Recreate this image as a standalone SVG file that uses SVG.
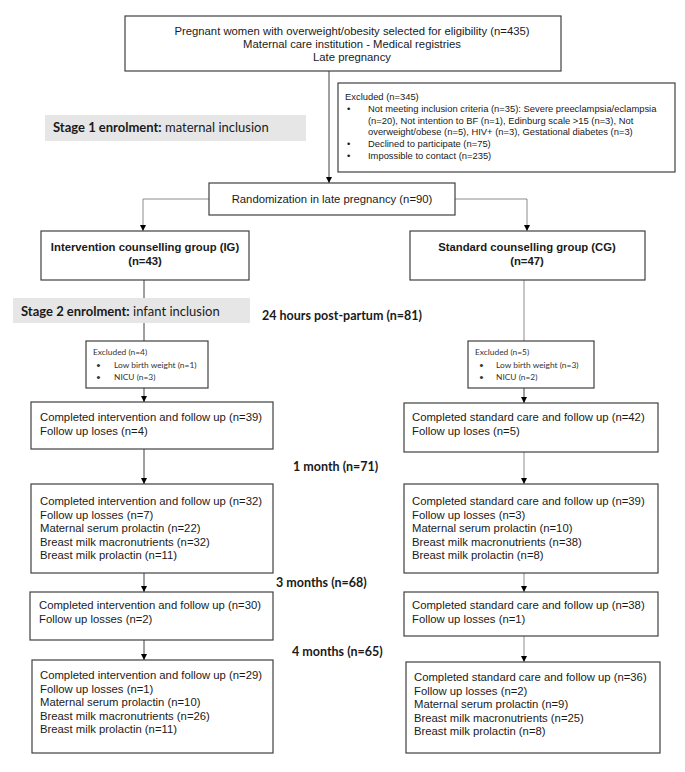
<svg xmlns="http://www.w3.org/2000/svg" width="685" height="772" viewBox="0 0 685 772">
<style>
.box{fill:#fff;stroke:#404040;stroke-width:1.2}
.lbl{fill:#e6e6e6}
.t{font-family:"Liberation Sans",Arial,sans-serif;font-size:11.3px;fill:#1a1a1a}
.tb{font-family:"Liberation Sans",Arial,sans-serif;font-size:11.3px;font-weight:bold;fill:#1a1a1a}
.ts{font-family:"Liberation Sans",Arial,sans-serif;font-size:9.4px;fill:#1a1a1a}
.c{font-family:Lato,"Open Sans",sans-serif;fill:#1a1a1a}
.st{font-size:13px}
.tm{font-size:12.5px;font-weight:bold}
.cs{font-family:Lato,"Open Sans",sans-serif;font-size:8.4px;fill:#333}
.ln{fill:none;stroke:#404040;stroke-width:1}
.lg{fill:none;stroke:#8c8c8c;stroke-width:1}
</style>
<defs>
<marker id="ah" viewBox="0 0 10 10" refX="10" refY="5" markerWidth="6" markerHeight="6" orient="auto" markerUnits="userSpaceOnUse">
<path d="M0,0 L10,5 L0,10 z" fill="#000"/>
</marker>
</defs>
<g id="connectors">
<path class="ln" d="M329,71 V183" marker-end="url(#ah)"/>
<path class="lg" d="M209,199 H143 V231" marker-end="url(#ah)"/>
<path class="lg" d="M455,199 H527 V231" marker-end="url(#ah)"/>
<path class="ln" d="M144,280 V341"/>
<path class="lg" d="M524,280 V341"/>
<path class="ln" d="M144,388 V402" marker-end="url(#ah)"/>
<path class="ln" d="M524,388 V403" marker-end="url(#ah)"/>
<path class="ln" d="M144,449 V484" marker-end="url(#ah)"/>
<path class="lg" d="M524,452 V484" marker-end="url(#ah)"/>
<path class="ln" d="M144,573 V592" marker-end="url(#ah)"/>
<path class="lg" d="M524,573 V592" marker-end="url(#ah)"/>
<path class="ln" d="M144,640 V660" marker-end="url(#ah)"/>
<path class="lg" d="M524,636 V662" marker-end="url(#ah)"/>
</g>
<g id="eligibility">
<rect class="box" x="125" y="16" width="436" height="55"/>
<text class="t" x="352" text-anchor="middle"><tspan x="352" y="35">Pregnant women with overweight/obesity selected for eligibility (n=435)</tspan><tspan x="352" y="48">Maternal care institution - Medical registries</tspan><tspan x="352" y="61">Late pregnancy</tspan></text>
</g>
<g id="excluded1">
<rect class="box" x="338" y="83" width="337" height="89"/>
<text class="ts"><tspan x="345" y="100">Excluded (n=345)</tspan><tspan x="347" y="111.8">•</tspan><tspan x="368" y="111.8">Not meeting inclusion criteria (n=35): Severe preeclampsia/eclampsia</tspan><tspan x="368" y="123.6">(n=20), Not intention to BF (n=1), Edinburg scale &gt;15 (n=3), Not</tspan><tspan x="368" y="135.4">overweight/obese (n=5), HIV+ (n=3), Gestational diabetes (n=3)</tspan><tspan x="347" y="147.2">•</tspan><tspan x="368" y="147.2">Declined to participate (n=75)</tspan><tspan x="347" y="159">•</tspan><tspan x="368" y="159">Impossible to contact (n=235)</tspan></text>
</g>
<g id="stage1">
<rect class="lbl" x="45" y="115" width="261" height="26"/>
<text class="c st" x="53" y="132"><tspan font-weight="bold">Stage 1 enrolment:</tspan> maternal inclusion</text>
</g>
<g id="randomization">
<rect class="box" x="209" y="183" width="246" height="32"/>
<text class="t" x="332" y="203" text-anchor="middle">Randomization in late pregnancy (n=90)</text>
</g>
<g id="ig">
<rect class="box" x="41" y="231" width="208" height="49"/>
<text class="tb" text-anchor="middle"><tspan x="145" y="251">Intervention counselling group (IG)</tspan><tspan x="145" y="265">(n=43)</tspan></text>
</g>
<g id="cg">
<rect class="box" x="410" y="231" width="235" height="49"/>
<text class="tb" text-anchor="middle"><tspan x="527" y="251">Standard counselling group (CG)</tspan><tspan x="527" y="265">(n=47)</tspan></text>
</g>
<g id="stage2">
<rect class="lbl" x="13" y="298" width="237" height="25"/>
<text class="c st" x="21" y="316"><tspan font-weight="bold">Stage 2 enrolment:</tspan> infant inclusion</text>
</g>
<g id="t24h">
<text class="c tm" x="262" y="319.5">24 hours post-partum (n=81)</text>
</g>
<g id="excluded-ig">
<rect class="box" x="86" y="341" width="122" height="47"/>
<text class="cs"><tspan x="93" y="355">Excluded (n=4)</tspan><tspan x="96" y="367.5">•</tspan><tspan x="114" y="367.5">Low birth weight (n=1)</tspan><tspan x="96" y="380">•</tspan><tspan x="114" y="380">NICU (n=3)</tspan></text>
</g>
<g id="excluded-cg">
<rect class="box" x="468" y="341" width="126" height="47"/>
<text class="cs"><tspan x="475" y="355">Excluded (n=5)</tspan><tspan x="479" y="367.5">•</tspan><tspan x="496" y="367.5">Low birth weight (n=3)</tspan><tspan x="479" y="380">•</tspan><tspan x="496" y="380">NICU (n=2)</tspan></text>
</g>
<g id="ig-24h">
<rect class="box" x="31" y="402" width="242" height="47"/>
<text class="t"><tspan x="40" y="421">Completed intervention and follow up (n=39)</tspan><tspan x="40" y="435">Follow up loses (n=4)</tspan></text>
</g>
<g id="cg-24h">
<rect class="box" x="404" y="403" width="254" height="49"/>
<text class="t"><tspan x="412" y="421">Completed standard care and follow up (n=42)</tspan><tspan x="412" y="435">Follow up loses (n=5)</tspan></text>
</g>
<g id="t1m">
<text class="c tm" x="293" y="470.5">1 month (n=71)</text>
</g>
<g id="ig-1m">
<rect class="box" x="31" y="484" width="242" height="89"/>
<text class="t"><tspan x="40" y="505">Completed intervention and follow up (n=32)</tspan><tspan x="40" y="518.5">Follow up losses (n=7)</tspan><tspan x="40" y="532">Maternal serum prolactin (n=22)</tspan><tspan x="40" y="545.5">Breast milk macronutrients (n=32)</tspan><tspan x="40" y="559">Breast milk prolactin (n=11)</tspan></text>
</g>
<g id="cg-1m">
<rect class="box" x="404" y="484" width="254" height="89"/>
<text class="t"><tspan x="412" y="505">Completed standard care and follow up (n=39)</tspan><tspan x="412" y="518.5">Follow up losses (n=3)</tspan><tspan x="412" y="532">Maternal serum prolactin (n=10)</tspan><tspan x="412" y="545.5">Breast milk macronutrients (n=38)</tspan><tspan x="412" y="559">Breast milk prolactin (n=8)</tspan></text>
</g>
<g id="t3m">
<text class="c tm" x="276" y="587">3 months (n=68)</text>
</g>
<g id="ig-3m">
<rect class="box" x="30" y="592" width="243" height="48"/>
<text class="t"><tspan x="39" y="609">Completed intervention and follow up (n=30)</tspan><tspan x="39" y="623">Follow up losses (n=2)</tspan></text>
</g>
<g id="cg-3m">
<rect class="box" x="404" y="592" width="254" height="44"/>
<text class="t"><tspan x="412" y="609">Completed standard care and follow up (n=38)</tspan><tspan x="412" y="623">Follow up losses (n=1)</tspan></text>
</g>
<g id="t4m">
<text class="c tm" x="292" y="656">4 months (n=65)</text>
</g>
<g id="ig-4m">
<rect class="box" x="32" y="660" width="241" height="93"/>
<text class="t"><tspan x="40" y="679">Completed intervention and follow up (n=29)</tspan><tspan x="40" y="692.5">Follow up losses (n=1)</tspan><tspan x="40" y="706">Maternal serum prolactin (n=10)</tspan><tspan x="40" y="719.5">Breast milk macronutrients (n=26)</tspan><tspan x="40" y="733">Breast milk prolactin (n=11)</tspan></text>
</g>
<g id="cg-4m">
<rect class="box" x="406" y="662" width="254" height="91"/>
<text class="t"><tspan x="414" y="681">Completed standard care and follow up (n=36)</tspan><tspan x="414" y="694.5">Follow up losses (n=2)</tspan><tspan x="414" y="708">Maternal serum prolactin (n=9)</tspan><tspan x="414" y="721.5">Breast milk macronutrients (n=25)</tspan><tspan x="414" y="735">Breast milk prolactin (n=8)</tspan></text>
</g>
</svg>
